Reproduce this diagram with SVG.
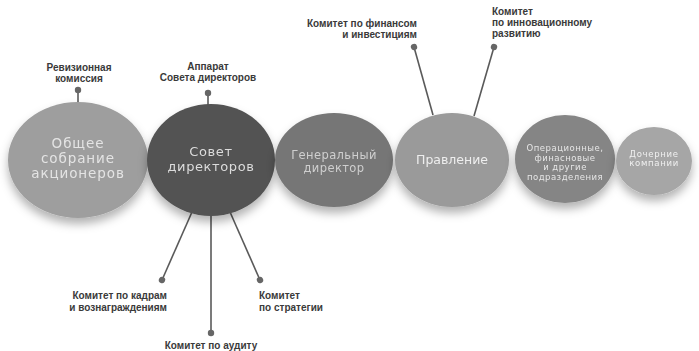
<svg xmlns="http://www.w3.org/2000/svg" width="699" height="351" viewBox="0 0 699 351">
<style>
.lbl{font-family:"Liberation Sans",Arial,sans-serif;font-weight:bold;font-size:10px;fill:#3a3a3a}
.ct{font-family:"DejaVu Sans","Liberation Sans",sans-serif;text-anchor:middle}
.conn line{stroke:#5a5a5a;stroke-width:1.6;marker-start:url(#dot)}
</style>
<defs>
<marker id="dot" markerUnits="userSpaceOnUse" markerWidth="8" markerHeight="8" refX="4" refY="4" orient="auto">
<circle cx="4" cy="4" r="3.2" fill="#666"/>
</marker>
<filter id="sh" x="-20%" y="-20%" width="140%" height="150%">
<feDropShadow dx="0" dy="6" stdDeviation="5" flood-color="#000" flood-opacity="0.3"/>
</filter>
</defs>
<rect width="699" height="351" fill="#fff"/>
<g id="connectors" class="conn">
<line x1="78" y1="90" x2="78" y2="103"/>
<line x1="208" y1="93" x2="208" y2="106"/>
<line x1="414" y1="47" x2="433" y2="115"/>
<line x1="494" y1="47" x2="474" y2="116"/>
<line x1="162" y1="280" x2="192" y2="212"/>
<line x1="211" y1="333" x2="211" y2="214"/>
<line x1="260" y1="280" x2="230" y2="212"/>
</g>
<g id="n-obshchee" filter="url(#sh)">
<ellipse cx="78" cy="160" rx="70" ry="58" fill="#9e9e9e"/>
<text class="ct" fill="#e4e4e4" font-size="13.5" letter-spacing="0.9"><tspan x="78" y="148">Общее</tspan><tspan x="78" y="163">собрание</tspan><tspan x="78" y="178">акционеров</tspan></text>
</g>
<g id="n-sovet" filter="url(#sh)">
<ellipse cx="211" cy="160" rx="64" ry="56" fill="#525252"/>
<text class="ct" fill="#dcdcdc" font-size="13" letter-spacing="0.6"><tspan x="211" y="156">Совет</tspan><tspan x="211" y="170.5">директоров</tspan></text>
</g>
<g id="n-gendir" filter="url(#sh)">
<ellipse cx="334" cy="160" rx="59" ry="47" fill="#767676"/>
<text class="ct" fill="#cfcfcf" font-size="11.5" letter-spacing="0.4"><tspan x="334" y="159">Генеральный</tspan><tspan x="334" y="171.8">директор</tspan></text>
</g>
<g id="n-pravlenie" filter="url(#sh)">
<ellipse cx="452" cy="160" rx="57" ry="47" fill="#9a9a9a"/>
<text class="ct" fill="#eeeeee" font-size="12.5" x="452" y="164">Правление</text>
</g>
<g id="n-oper" filter="url(#sh)">
<ellipse cx="565" cy="159" rx="50" ry="44" fill="#858585"/>
<text class="ct" fill="#e6e6e6" font-size="8.5" letter-spacing="0.5"><tspan x="565" y="151">Операционные,</tspan><tspan x="565" y="160.5">финасновые</tspan><tspan x="565" y="170">и другие</tspan><tspan x="565" y="179.5">подразделения</tspan></text>
</g>
<g id="n-dochernie" filter="url(#sh)">
<ellipse cx="654" cy="161" rx="38" ry="34" fill="#a6a6a6"/>
<text class="ct" fill="#f0f0f0" font-size="8.5" letter-spacing="0.7"><tspan x="654" y="156.5">Дочерние</tspan><tspan x="654" y="166">компании</tspan></text>
</g>
<g id="n-revizion">
<text class="lbl" text-anchor="middle"><tspan x="79" y="71">Ревизионная</tspan><tspan x="79" y="82">комиссия</tspan></text>
</g>
<g id="n-apparat">
<text class="lbl" text-anchor="middle"><tspan x="208" y="70">Аппарат</tspan><tspan x="208" y="81">Совета директоров</tspan></text>
</g>
<g id="n-kom-fin">
<text class="lbl" text-anchor="end"><tspan x="417" y="27">Комитет по финансом</tspan><tspan x="417" y="38">и инвестициям</tspan></text>
</g>
<g id="n-kom-innov">
<text class="lbl"><tspan x="492" y="15">Комитет</tspan><tspan x="492" y="26">по инновационному</tspan><tspan x="492" y="37">развитию</tspan></text>
</g>
<g id="n-kom-kadry">
<text class="lbl" text-anchor="end"><tspan x="167" y="299">Комитет по кадрам</tspan><tspan x="167" y="311">и вознаграждениям</tspan></text>
</g>
<g id="n-kom-strat">
<text class="lbl"><tspan x="259" y="299">Комитет</tspan><tspan x="259" y="311">по стратегии</tspan></text>
</g>
<g id="n-kom-audit">
<text class="lbl" text-anchor="middle" x="211" y="349">Комитет по аудиту</text>
</g>
</svg>
